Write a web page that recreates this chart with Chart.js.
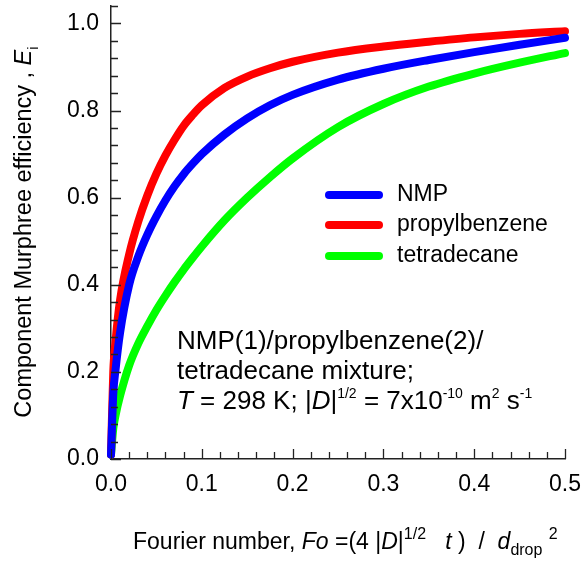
<!DOCTYPE html>
<html>
<head>
<meta charset="utf-8">
<script src="https://cdn.jsdelivr.net/npm/chart.js@4.4.0/dist/chart.umd.min.js"></script>
<style>
    html, body { margin: 0; padding: 0; background: #fff; }
</style>
</head>
<body>
<canvas id="chart" width="584" height="561"></canvas>
<script>
// Fourier number samples and efficiencies
const fourierNumbers = [0, 0.0025, 0.005, 0.01, 0.02, 0.03, 0.04, 0.05, 0.06, 0.07, 0.08, 0.09, 0.1, 0.125, 0.15, 0.175, 0.2, 0.25, 0.3, 0.35, 0.4, 0.45, 0.5];
const nmpEff = [0.01, 0.15, 0.205, 0.29, 0.40, 0.465, 0.515, 0.557, 0.594, 0.626, 0.654, 0.678, 0.70, 0.745, 0.782, 0.812, 0.836, 0.871, 0.896, 0.916, 0.934, 0.951, 0.967];
const propylbenzeneEff = [0.01, 0.20, 0.27, 0.365, 0.47, 0.545, 0.605, 0.655, 0.697, 0.733, 0.765, 0.79, 0.812, 0.852, 0.878, 0.897, 0.912, 0.933, 0.947, 0.958, 0.968, 0.976, 0.982];
const tetradecaneEff = [0.01, 0.07, 0.10, 0.145, 0.215, 0.265, 0.305, 0.342, 0.375, 0.406, 0.435, 0.462, 0.488, 0.548, 0.60, 0.647, 0.69, 0.762, 0.815, 0.855, 0.885, 0.91, 0.932];

const seriesNames = ['NMP', 'propylbenzene', 'tetradecane'];
const seriesColors = ['#0000ff', '#ff0000', '#00ff00'];
const xTickLabels = ['0.0', '0.1', '0.2', '0.3', '0.4', '0.5'];
const yTickLabels = ['0.0', '0.2', '0.4', '0.6', '0.8', '1.0'];

const FONT = 'Arial, "Liberation Sans", sans-serif';

function toPoints(values) {
    return fourierNumbers.map((fo, i) => ({ x: fo, y: values[i] }));
}

// draws a run of text pieces: {t, it (italic), sup, sub}
function drawRich(ctx, parts, x, y, size, align, smallScale) {
    const small = smallScale || 0.62;
    const fontOf = p => `${p.it ? 'italic ' : ''}${(p.sup || p.sub) ? Math.round(size * small) : size}px ${FONT}`;
    let total = 0;
    parts.forEach(p => { ctx.font = fontOf(p); total += ctx.measureText(p.t).width; });
    let cx = align === 'center' ? x - total / 2 : x;
    ctx.textAlign = 'left';
    ctx.textBaseline = 'alphabetic';
    parts.forEach(p => {
        ctx.font = fontOf(p);
        const dy = p.sup ? -size * 0.42 : p.sub ? size * 0.28 : 0;
        ctx.fillText(p.t, cx, y + dy);
        cx += ctx.measureText(p.t).width;
    });
}

const decorations = {
    id: 'decorations',
    afterDraw(chart) {
        const ctx = chart.ctx;
        const xs = chart.scales.x, ys = chart.scales.y;
        ctx.save();
        ctx.strokeStyle = '#222';
        ctx.lineWidth = 1.3;
        // inward ticks, minor every 0.02 / 0.04
        ctx.beginPath();
        for (let i = 0; i <= 25; i++) {
            const px = Math.round(xs.getPixelForValue(i * 0.02)) + 0.5;
            const len = i % 5 === 0 ? 10 : 7;
            ctx.moveTo(px, ys.bottom);
            ctx.lineTo(px, ys.bottom - len);
        }
        for (let i = 0; i <= 26; i++) {
            const py = Math.round(ys.getPixelForValue(i * 0.04)) + 0.5;
            const len = i % 5 === 0 ? 10 : 7;
            ctx.moveTo(xs.left, py);
            ctx.lineTo(xs.left + len, py);
        }
        ctx.stroke();

        ctx.fillStyle = '#000';
        // x axis title
        drawRich(ctx, [
            { t: 'Fourier number, ' },
            { t: 'Fo', it: true },
            { t: ' =(4 |' },
            { t: 'D', it: true },
            { t: '|' },
            { t: '1/2', sup: true },
            { t: '   ' },
            { t: 't', it: true },
            { t: ' )  /  ' },
            { t: 'd', it: true },
            { t: 'drop', sub: true },
            { t: ' ' },
            { t: '2', sup: true }
        ], 133, 549, 23, 'left', 0.7);

        // y axis title
        ctx.save();
        ctx.translate(31, 232);
        ctx.rotate(-Math.PI / 2);
        drawRich(ctx, [
            { t: 'Component Murphree efficiency , ' },
            { t: 'E', it: true },
            { t: 'i', sub: true }
        ], 0, 0, 23.5, 'center');
        ctx.restore();

        // legend
        chart.data.datasets.forEach((ds, i) => {
            const ly = [195, 225, 256][i];
            ctx.strokeStyle = ds.borderColor;
            ctx.lineWidth = 8;
            ctx.lineCap = 'round';
            ctx.beginPath();
            ctx.moveTo(329, ly);
            ctx.lineTo(379, ly);
            ctx.stroke();
            ctx.fillStyle = '#000';
            ctx.font = `23px ${FONT}`;
            ctx.textAlign = 'left';
            ctx.textBaseline = 'middle';
            ctx.fillText(ds.label, 397, ly);
        });

        // annotation
        ctx.fillStyle = '#000';
        drawRich(ctx, [{ t: 'NMP(1)/propylbenzene(2)/' }], 177, 349, 26, 'left');
        drawRich(ctx, [{ t: 'tetradecane mixture;' }], 177, 379, 26, 'left');
        drawRich(ctx, [
            { t: 'T', it: true },
            { t: ' = 298 K; |' },
            { t: 'D', it: true },
            { t: '|' },
            { t: '1/2', sup: true },
            { t: ' = 7x10' },
            { t: '-10', sup: true },
            { t: ' m' },
            { t: '2', sup: true },
            { t: ' s' },
            { t: '-1', sup: true }
        ], 177, 409, 26, 'left', 0.55);
        ctx.restore();
    }
};

const seriesValues = [nmpEff, propylbenzeneEff, tetradecaneEff];

new Chart(document.getElementById('chart'), {
    type: 'line',
    data: {
        datasets: seriesNames.map((name, i) => ({
            label: name,
            data: toPoints(seriesValues[i]),
            borderColor: seriesColors[i],
            backgroundColor: seriesColors[i],
            borderWidth: 8,
            borderCapStyle: 'round',
            borderJoinStyle: 'round',
            pointRadius: 0,
            cubicInterpolationMode: 'monotone',
            fill: false,
            clip: false
        }))
    },
    options: {
        responsive: false,
        animation: false,
        layout: { autoPadding: false, padding: { top: 6, right: 19, left: 0, bottom: 0 } },
        plugins: { legend: { display: false }, tooltip: { enabled: false } },
        scales: {
            x: {
                type: 'linear',
                min: 0,
                max: 0.5,
                grid: { display: false, drawTicks: false },
                border: { display: true, color: '#222', width: 1.5 },
                ticks: {
                    stepSize: 0.1,
                    color: '#000',
                    font: { family: FONT, size: 23 },
                    padding: 12,
                    maxRotation: 0,
                    callback: v => xTickLabels[Math.round(v * 10)]
                },
                afterFit: s => { s.height = 102; s.paddingLeft = 0; s.paddingRight = 0; }
            },
            y: {
                min: 0,
                max: 1.04,
                grid: { display: false, drawTicks: false },
                border: { display: true, color: '#222', width: 1.5 },
                ticks: {
                    stepSize: 0.2,
                    includeBounds: false,
                    color: '#000',
                    font: { family: FONT, size: 23 },
                    padding: 12,
                    callback: v => yTickLabels[Math.round(v * 5)]
                },
                afterFit: s => { s.width = 111; s.paddingTop = 0; s.paddingBottom = 0; }
            }
        }
    },
    plugins: [decorations]
});
</script>
</body>
</html>
